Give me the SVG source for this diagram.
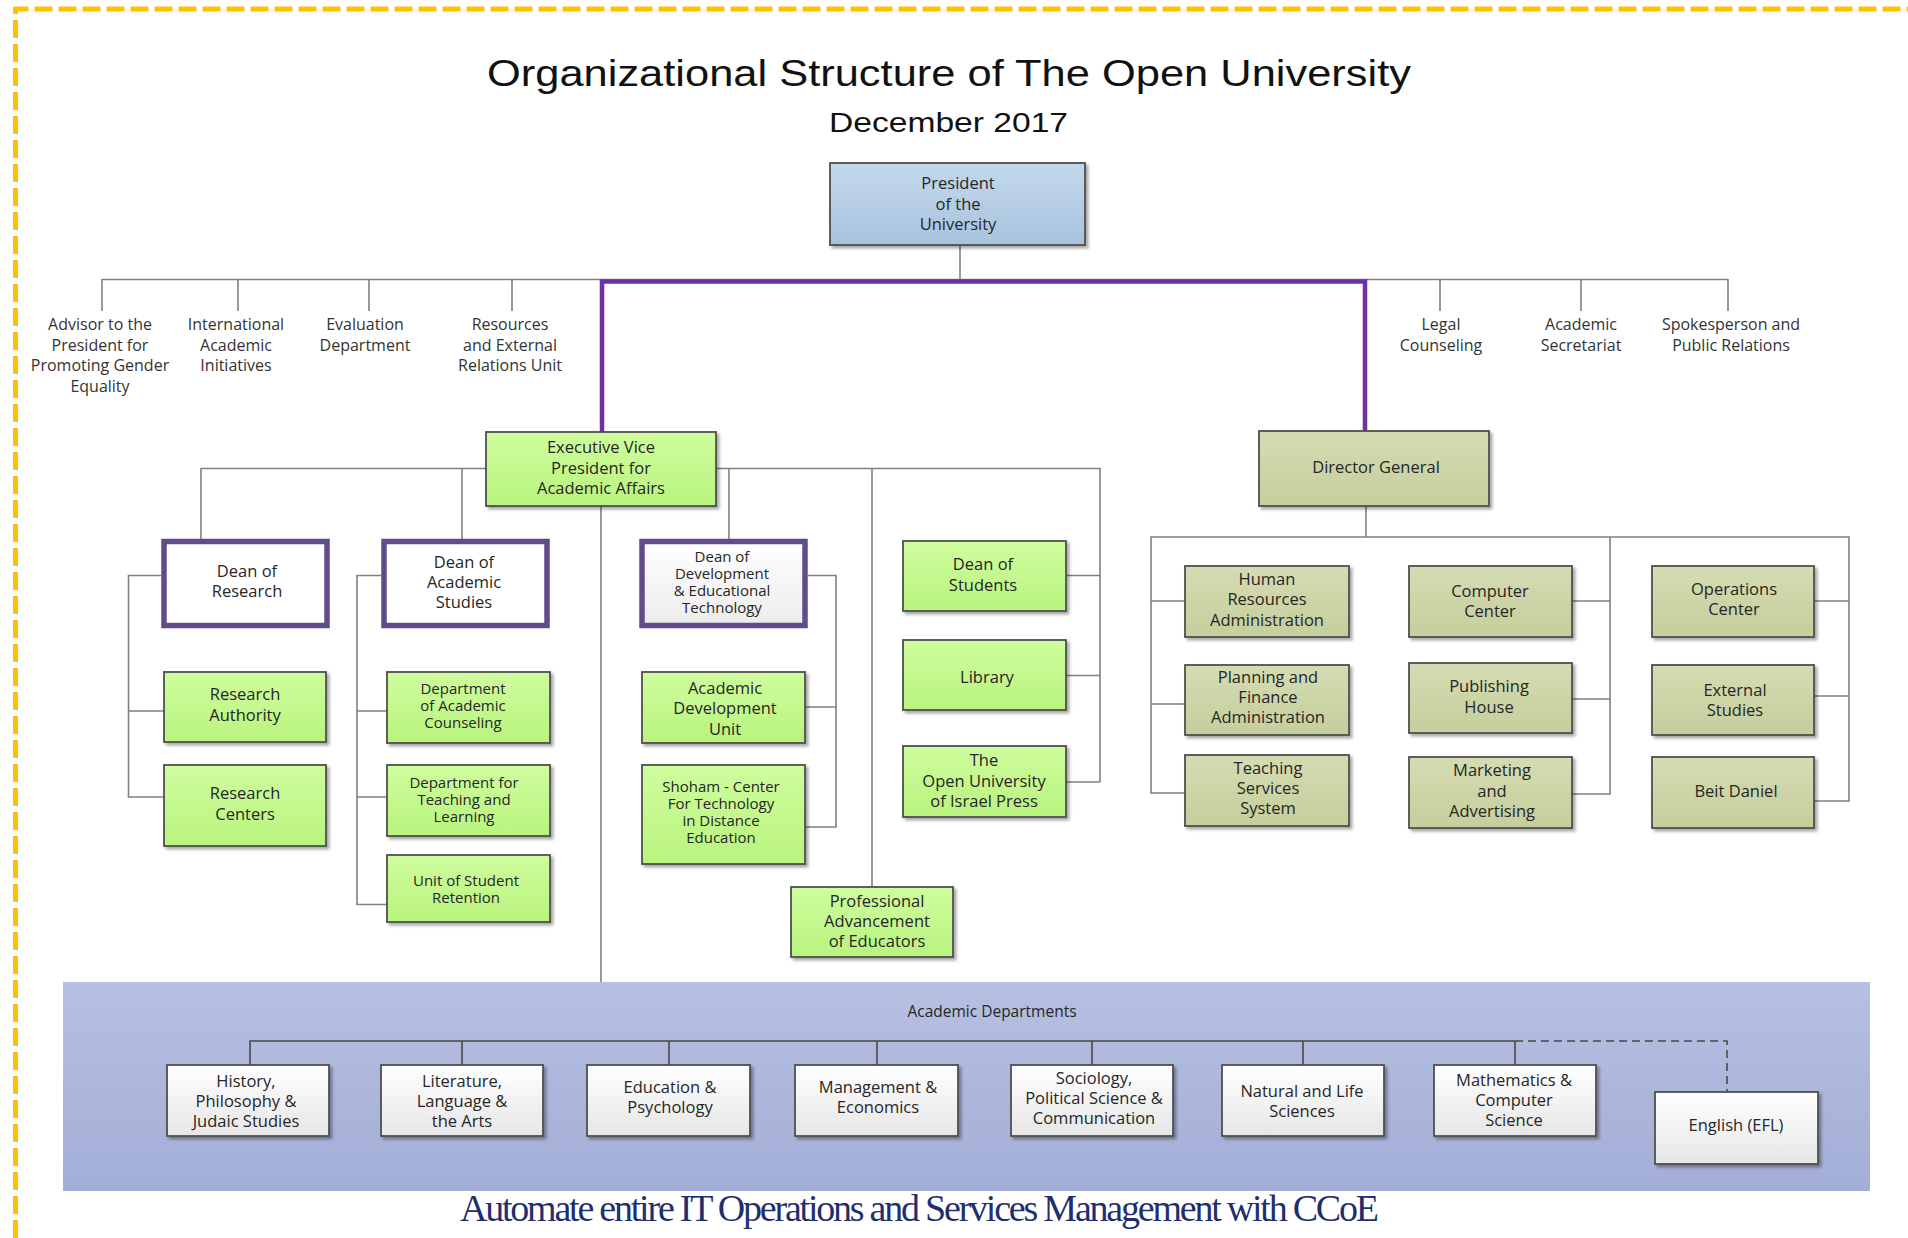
<svg xmlns="http://www.w3.org/2000/svg" width="1908" height="1238" viewBox="0 0 1908 1238">
<defs>
<style>
.t{font-family:"Open Sans","Liberation Sans",sans-serif;font-size:16.5px;fill:#262626;text-anchor:middle}
.tt{font-size:15px}
.lbl{font-family:"Open Sans","Liberation Sans",sans-serif;font-size:16px;fill:#333;text-anchor:middle}
.box{stroke:#4f4f4f;stroke-width:1.8;filter:url(#sh)}
.g{fill:url(#gGreen)}
.o{fill:url(#gOlive)}
.w{fill:url(#gWhite)}
.b{fill:url(#gBlue)}
.dean{fill:#fff;stroke:#5f4c88;stroke-width:5.5}
.c{stroke:#808080;stroke-width:1.6;fill:none}
.cd{stroke:#4a4a4a;stroke-width:1.6;fill:none}
.p{stroke:#7030a0;stroke-width:4.5;fill:none}
.border{stroke:#ffc000;stroke-width:5;stroke-dasharray:18 6;fill:none}
</style>
<filter id="sh" x="-10%" y="-10%" width="125%" height="130%">
<feDropShadow dx="2.5" dy="2.5" stdDeviation="1.5" flood-color="#000" flood-opacity="0.35"/>
</filter>
<linearGradient id="gGreen" x1="0" y1="0" x2="0" y2="1"><stop offset="0" stop-color="#cffd9e"/><stop offset="1" stop-color="#b9f47e"/></linearGradient>
<linearGradient id="gOlive" x1="0" y1="0" x2="0" y2="1"><stop offset="0" stop-color="#d5dcb3"/><stop offset="1" stop-color="#c5ce9c"/></linearGradient>
<linearGradient id="gWhite" x1="0" y1="0" x2="0" y2="1"><stop offset="0" stop-color="#ffffff"/><stop offset="1" stop-color="#e6e6e6"/></linearGradient>
<linearGradient id="gDev" x1="0" y1="0" x2="0" y2="1"><stop offset="0" stop-color="#ffffff"/><stop offset="1" stop-color="#ececec"/></linearGradient>
<linearGradient id="gBlue" x1="0" y1="0" x2="0" y2="1"><stop offset="0" stop-color="#c3d8eb"/><stop offset="1" stop-color="#a8c3de"/></linearGradient>
<linearGradient id="gBand" x1="0" y1="0" x2="0" y2="1"><stop offset="0" stop-color="#b7c0e1"/><stop offset="1" stop-color="#a3aed7"/></linearGradient>
</defs>

<rect x="0" y="0" width="1908" height="1238" fill="#ffffff"/>
<g id="frame">
<path class="border" d="M15.5 1238 V9 H1908"/>
</g>

<g id="titles">
<text x="487" y="86" font-family="Liberation Sans, Arial, sans-serif" font-size="37" fill="#111" textLength="924" lengthAdjust="spacingAndGlyphs">Organizational Structure of The Open University</text>
<text x="829" y="131.5" font-family="Liberation Sans, Arial, sans-serif" font-size="28.5" fill="#111" textLength="239" lengthAdjust="spacingAndGlyphs">December 2017</text>
</g>

<g id="band">
<rect x="63" y="982" width="1807" height="209" fill="url(#gBand)"/>
<text class="t" x="992" y="1016.5" style="font-size:15.5px">Academic Departments</text>
</g>

<g id="connectors">
<path class="c" d="M960 245 V279"/>
<path class="c" d="M102 279.5 H1728"/>
<path class="c" d="M102 279 V311 M238 279 V311 M369 279 V311 M512 279 V311 M1440 279 V311 M1581 279 V311 M1728 279 V311"/>
<path class="p" d="M602 432 V281.5 H1365 V431"/>
<path class="c" d="M486 468.5 H201 V539 M462 468.5 V539"/>
<path class="c" d="M716 468.5 H1100 V782 M729 468.5 V539 M872 468.5 V887"/>
<path class="c" d="M601 506 V982"/>
<path class="c" d="M161 575.5 H128.5 V797 H164 M128.5 711 H164"/>
<path class="c" d="M381 575.5 H357 V904.5 H387 M357 711 H387 M357 797 H387"/>
<path class="c" d="M808 575.5 H836 V827 H805 M805 707 H836"/>
<path class="c" d="M1066 575.5 H1100 M1066 675.5 H1100 M1066 782 H1100"/>
<path class="c" d="M1366 506 V537 M1185 793 H1151 V537 H1849 V801 H1814 M1151 601 H1185 M1151 704 H1185"/>
<path class="c" d="M1610 537 V794 H1572 M1572 601 H1610 M1572 699 H1610 M1814 601 H1849 M1814 696 H1849"/>
<path class="cd" d="M250 1065 V1041 H1515 M462 1041 V1065 M669 1041 V1065 M877 1041 V1065 M1092 1041 V1065 M1303 1041 V1065 M1515 1041 V1065"/>
<path class="cd" d="M1515 1041 H1727 V1092" stroke-dasharray="8 5"/>
</g>

<g id="top-labels">
<g id="advisor"><text class="lbl"><tspan x="100" y="330">Advisor to the</tspan><tspan x="100" y="350.5">President for</tspan><tspan x="100" y="371">Promoting Gender</tspan><tspan x="100" y="391.5">Equality</tspan></text></g>
<g id="international"><text class="lbl"><tspan x="236" y="330">International</tspan><tspan x="236" y="350.5">Academic</tspan><tspan x="236" y="371">Initiatives</tspan></text></g>
<g id="evaluation"><text class="lbl"><tspan x="365" y="330">Evaluation</tspan><tspan x="365" y="350.5">Department</tspan></text></g>
<g id="resources"><text class="lbl"><tspan x="510" y="330">Resources</tspan><tspan x="510" y="350.5">and External</tspan><tspan x="510" y="371">Relations Unit</tspan></text></g>
<g id="legal"><text class="lbl"><tspan x="1441" y="330">Legal</tspan><tspan x="1441" y="350.5">Counseling</tspan></text></g>
<g id="secretariat"><text class="lbl"><tspan x="1581" y="330">Academic</tspan><tspan x="1581" y="350.5">Secretariat</tspan></text></g>
<g id="spokesperson"><text class="lbl"><tspan x="1731" y="330">Spokesperson and</tspan><tspan x="1731" y="350.5">Public Relations</tspan></text></g>
</g>

<g id="president"><rect class="box b" x="830" y="163" width="255" height="82"/><text class="t"><tspan x="958" y="189">President</tspan><tspan x="958" y="209.5">of the</tspan><tspan x="958" y="230">University</tspan></text></g>

<g id="evp"><rect class="box g" x="486" y="432" width="230" height="74"/><text class="t"><tspan x="601" y="453">Executive Vice</tspan><tspan x="601" y="473.5">President for</tspan><tspan x="601" y="494">Academic Affairs</tspan></text></g>

<g id="director-general"><rect class="box o" x="1259" y="431" width="230" height="75"/><text class="t" x="1376" y="473">Director General</text></g>

<g id="dean-research"><rect class="dean" x="164" y="541.5" width="163" height="84"/><text class="t"><tspan x="247" y="577">Dean of</tspan><tspan x="247" y="597">Research</tspan></text></g>
<g id="research-authority"><rect class="box g" x="164" y="672" width="162" height="70"/><text class="t"><tspan x="245" y="700">Research</tspan><tspan x="245" y="720.5">Authority</tspan></text></g>
<g id="research-centers"><rect class="box g" x="164" y="765" width="162" height="81"/><text class="t"><tspan x="245" y="799">Research</tspan><tspan x="245" y="819.5">Centers</tspan></text></g>

<g id="dean-academic"><rect class="dean" x="384" y="541.5" width="163" height="84"/><text class="t"><tspan x="464" y="568">Dean of</tspan><tspan x="464" y="588">Academic</tspan><tspan x="464" y="608">Studies</tspan></text></g>
<g id="counseling"><rect class="box g" x="387" y="672" width="163" height="71"/><text class="t tt"><tspan x="463" y="694">Department</tspan><tspan x="463" y="711">of Academic</tspan><tspan x="463" y="728">Counseling</tspan></text></g>
<g id="teaching-learning"><rect class="box g" x="387" y="765" width="163" height="71"/><text class="t tt"><tspan x="464" y="787.5">Department for</tspan><tspan x="464" y="804.5">Teaching and</tspan><tspan x="464" y="821.5">Learning</tspan></text></g>
<g id="retention"><rect class="box g" x="387" y="855" width="163" height="67"/><text class="t tt"><tspan x="466" y="885.5">Unit of Student</tspan><tspan x="466" y="902.5">Retention</tspan></text></g>

<g id="dean-development"><rect class="dean" x="642" y="541.5" width="163" height="84" style="fill:url(#gDev)"/><text class="t tt"><tspan x="722" y="562">Dean of</tspan><tspan x="722" y="579">Development</tspan><tspan x="722" y="596">&amp; Educational</tspan><tspan x="722" y="613">Technology</tspan></text></g>
<g id="acad-dev-unit"><rect class="box g" x="642" y="672" width="163" height="71"/><text class="t"><tspan x="725" y="693.5">Academic</tspan><tspan x="725" y="714">Development</tspan><tspan x="725" y="734.5">Unit</tspan></text></g>
<g id="shoham"><rect class="box g" x="642" y="765" width="163" height="99"/><text class="t tt"><tspan x="721" y="791.5">Shoham - Center</tspan><tspan x="721" y="808.5">For Technology</tspan><tspan x="721" y="825.5">in Distance</tspan><tspan x="721" y="842.5">Education</tspan></text></g>
<g id="prof-adv"><rect class="box g" x="791" y="887" width="162" height="70"/><text class="t"><tspan x="877" y="906.5">Professional</tspan><tspan x="877" y="927">Advancement</tspan><tspan x="877" y="947">of Educators</tspan></text></g>

<g id="dean-students"><rect class="box g" x="903" y="541" width="163" height="70"/><text class="t"><tspan x="983" y="570">Dean of</tspan><tspan x="983" y="591">Students</tspan></text></g>
<g id="library"><rect class="box g" x="903" y="640" width="163" height="70"/><text class="t" x="987" y="683">Library</text></g>
<g id="press"><rect class="box g" x="903" y="746" width="163" height="71"/><text class="t"><tspan x="984" y="766">The</tspan><tspan x="984" y="787">Open University</tspan><tspan x="984" y="807">of Israel Press</tspan></text></g>

<g id="hr"><rect class="box o" x="1185" y="566" width="164" height="71"/><text class="t"><tspan x="1267" y="585">Human</tspan><tspan x="1267" y="605">Resources</tspan><tspan x="1267" y="625.5">Administration</tspan></text></g>
<g id="planning"><rect class="box o" x="1185" y="665" width="164" height="70"/><text class="t"><tspan x="1268" y="683">Planning and</tspan><tspan x="1268" y="703">Finance</tspan><tspan x="1268" y="723">Administration</tspan></text></g>
<g id="teaching-services"><rect class="box o" x="1185" y="755" width="164" height="71"/><text class="t"><tspan x="1268" y="774">Teaching</tspan><tspan x="1268" y="794">Services</tspan><tspan x="1268" y="814">System</tspan></text></g>
<g id="computer-center"><rect class="box o" x="1409" y="566" width="163" height="71"/><text class="t"><tspan x="1490" y="597">Computer</tspan><tspan x="1490" y="617">Center</tspan></text></g>
<g id="publishing"><rect class="box o" x="1409" y="663" width="163" height="70"/><text class="t"><tspan x="1489" y="692">Publishing</tspan><tspan x="1489" y="712.5">House</tspan></text></g>
<g id="marketing"><rect class="box o" x="1409" y="757" width="163" height="71"/><text class="t"><tspan x="1492" y="776">Marketing</tspan><tspan x="1492" y="796.5">and</tspan><tspan x="1492" y="816.5">Advertising</tspan></text></g>
<g id="operations"><rect class="box o" x="1652" y="566" width="162" height="71"/><text class="t"><tspan x="1734" y="595">Operations</tspan><tspan x="1734" y="615">Center</tspan></text></g>
<g id="external"><rect class="box o" x="1652" y="665" width="162" height="70"/><text class="t"><tspan x="1735" y="695.5">External</tspan><tspan x="1735" y="715.5">Studies</tspan></text></g>
<g id="beit-daniel"><rect class="box o" x="1652" y="757" width="162" height="71"/><text class="t" x="1736" y="797">Beit Daniel</text></g>

<g id="history"><rect class="box w" x="167" y="1065" width="162" height="71"/><text class="t"><tspan x="246" y="1086.5">History,</tspan><tspan x="246" y="1106.5">Philosophy &amp;</tspan><tspan x="246" y="1126.5">Judaic Studies</tspan></text></g>
<g id="literature"><rect class="box w" x="381" y="1065" width="162" height="71"/><text class="t"><tspan x="462" y="1086.5">Literature,</tspan><tspan x="462" y="1106.5">Language &amp;</tspan><tspan x="462" y="1126.5">the Arts</tspan></text></g>
<g id="education"><rect class="box w" x="587" y="1065" width="163" height="71"/><text class="t"><tspan x="670" y="1093">Education &amp;</tspan><tspan x="670" y="1113">Psychology</tspan></text></g>
<g id="management"><rect class="box w" x="795" y="1065" width="163" height="71"/><text class="t"><tspan x="878" y="1093">Management &amp;</tspan><tspan x="878" y="1113">Economics</tspan></text></g>
<g id="sociology"><rect class="box w" x="1011" y="1065" width="162" height="71"/><text class="t"><tspan x="1094" y="1084">Sociology,</tspan><tspan x="1094" y="1104">Political Science &amp;</tspan><tspan x="1094" y="1123.5">Communication</tspan></text></g>
<g id="natural"><rect class="box w" x="1222" y="1065" width="162" height="71"/><text class="t"><tspan x="1302" y="1096.5">Natural and Life</tspan><tspan x="1302" y="1116.5">Sciences</tspan></text></g>
<g id="mathematics"><rect class="box w" x="1434" y="1065" width="162" height="71"/><text class="t"><tspan x="1514" y="1085.5">Mathematics &amp;</tspan><tspan x="1514" y="1106">Computer</tspan><tspan x="1514" y="1126">Science</tspan></text></g>
<g id="english"><rect class="box w" x="1655" y="1092" width="163" height="72"/><text class="t" x="1736" y="1130.5">English (EFL)</text></g>

<g id="footer">
<text x="460" y="1221" font-family="Liberation Serif, 'Times New Roman', serif" font-size="38" fill="#1f2f6e" textLength="919" lengthAdjust="spacing">Automate entire IT Operations and Services Management with CCoE</text>
</g>
</svg>
